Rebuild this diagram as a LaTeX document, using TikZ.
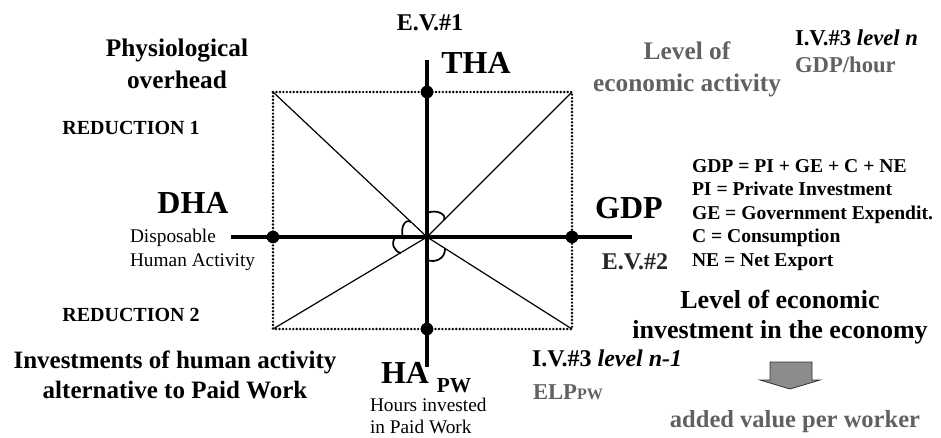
\documentclass[tikz,border=0pt]{standalone}
\usepackage{fontspec}
\setmainfont{Liberation Serif}
\usetikzlibrary{calc}

\begin{document}
\begin{tikzpicture}[x=0.75pt, y=-0.75pt,
  axis/.style={line width=2.3pt},
  frameline/.style={line width=2pt, line cap=round, dash pattern=on 0pt off 2.6pt},
  diagline/.style={line width=0.9pt},
  anglemark/.style={line width=1.3pt},
  hub/.style={circle, fill=black, inner sep=0pt, minimum size=9.5pt},
  txt/.style={inner sep=0pt, outer sep=0pt},
  big/.style={txt, font=\fontsize{24}{28}\selectfont\bfseries},
  head/.style={txt, align=center, font=\fontsize{19}{24}\selectfont\bfseries},
  small/.style={txt, align=left, font=\fontsize{14.5}{18}\selectfont},
  caps/.style={txt, font=\fontsize{15}{18}\selectfont\bfseries},
  halftone/.style={text=black!62},
  blockarrow/.style={fill=black!45, draw=black!80, line width=0.6pt}
]
\useasboundingbox (0,0) rectangle (941,437);

% centre of the cross and corners of the dotted frame
\coordinate (C)  at (427,237);
\coordinate (TL) at (273,92);
\coordinate (TR) at (572,92);
\coordinate (BR) at (572,329);
\coordinate (BL) at (273,329);
\coordinate (axT) at (427,60);
\coordinate (axB) at (427,367);
\coordinate (axL) at (231,237);
\coordinate (axR) at (632,237);

% dotted frame and diagonals
\draw[frameline] (TL) -- (TR) -- (BR) -- (BL) -- cycle;
\draw[diagline] (C) -- (TL);
\draw[diagline] (C) -- (TR);
\draw[diagline] (C) -- (BR);
\draw[diagline] (C) -- (BL);

% the two axes
\draw[axis] (axT) -- (axB);
\draw[axis] (axL) -- (axR);

% small angle marks round the centre
\draw[anglemark] ($(C)+(0,-24)$) .. controls ($(C)+(9,-28)$) and ($(C)+(20,-23)$) .. ($(C)+(17,-17)$);
\draw[anglemark] ($(C)+(-24,0)$) .. controls ($(C)+(-27,-9)$) and ($(C)+(-22,-19)$) .. ($(C)+(-16,-15)$);
\draw[anglemark] ($(C)+(-31,0)$) .. controls ($(C)+(-37,5)$) and ($(C)+(-33,15)$) .. ($(C)+(-26,16)$);
\draw[anglemark] ($(C)+(0,23)$) .. controls ($(C)+(8,26)$) and ($(C)+(18,22)$) .. ($(C)+(18,12)$);

% hubs where the axes cross the frame
\node[hub] (tha-pt) at (427,92) {};
\node[hub] (dha-pt) at (273,237) {};
\node[hub] (gdp-pt) at (572,237) {};
\node[hub] (ha-pt)  at (427,329) {};

% axis names
\node[big] (tha) at (476,63) {THA};
\node[big] (dha) at (193,203) {DHA};
\node[big] (gdp) at (629,208) {GDP};
\node[big] (ha)  at (405,373) {HA};
\node[txt, font=\fontsize{16}{18}\selectfont\bfseries] (hapw) at (454,386) {PW};

\node[txt, font=\fontsize{18}{20}\selectfont\bfseries] (ev1) at (430,23) {E.V.\#1};
\node[txt, font=\fontsize{18}{20}\selectfont\bfseries, text=black!85] (ev2) at (635,262) {E.V.\#2};

% left side
\node[head] (physio) at (177,64) {Physiological\\overhead};
\node[caps] (red1) at (131,128) {REDUCTION 1};
\node[caps] (red2) at (131,315) {REDUCTION 2};
\node[small, anchor=west] (dhatext) at (130,250) {Disposable\\Human Activity};
\node[head, font=\fontsize{18.75}{22.5}\selectfont\bfseries] (invest) at (175,375)
  {Investments of human activity\\alternative to Paid Work};
\node[small, anchor=west, font=\fontsize{14.5}{16}\selectfont] (hatext) at (370,416) {Hours invested\\in Paid Work};

% right side
\node[head, halftone] (levact) at (687,69) {Level of\\economic activity};
\node[txt, anchor=west, font=\fontsize{17}{20}\selectfont\bfseries] (iv3n) at (795,38) {I.V.\#3 \textit{level n}};
\node[txt, anchor=west, halftone, font=\fontsize{17}{20}\selectfont\bfseries] (gdph) at (795,65) {GDP/hour};

\node[txt, anchor=west, align=left, font=\fontsize{14.7}{17.6}\selectfont\bfseries] (formula) at (692,215)
  {GDP = PI + GE + C + NE\\PI = Private Investment\\GE = Government Expendit.\\C = Consumption\\NE = Net Export};

\node[head, font=\fontsize{19.5}{22.5}\selectfont\bfseries] (levinv) at (780,317)
  {Level of economic\\investment in the economy};

\node[txt, anchor=west, font=\fontsize{18}{20}\selectfont\bfseries] (iv3n1) at (532,358) {I.V.\#3 \textit{level n-1}};
\node[txt, anchor=west, halftone, font=\fontsize{17}{20}\selectfont\bfseries] (elp) at (533,392)
  {ELP{\fontsize{12}{14}\selectfont PW}};

% down arrow towards added value
\draw[blockarrow] (770,362) -- (812,362) -- (812,380) -- (820,380) -- (790,389) -- (760,380) -- (770,380) -- cycle;

\node[txt, halftone, font=\fontsize{18.4}{20}\selectfont\bfseries] (added) at (795,422) {added value per worker};

\end{tikzpicture}
\end{document}
